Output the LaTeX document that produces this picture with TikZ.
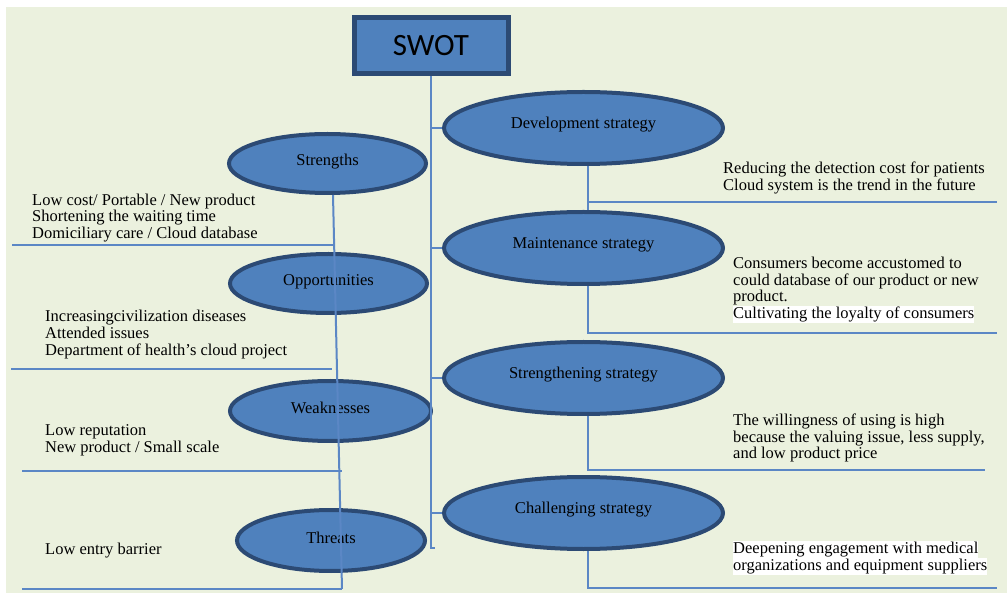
\documentclass[tikz,border=0pt]{standalone}
\usepackage{fontspec}
\setmainfont{Liberation Serif}
\newfontfamily\swotfont{Carlito}
\usetikzlibrary{shapes.geometric}
\definecolor{bgc}{HTML}{EBF1DE}
\definecolor{fillc}{HTML}{4F81BD}
\definecolor{edgec}{HTML}{2C4A74}
\definecolor{linec}{HTML}{5B87C5}
\tikzset{
  oval/.style={ellipse, draw=edgec, fill=fillc, line width=4pt, inner sep=0pt,
    font=\fontsize{16.5}{16.7}\selectfont, text height=11pt},
  lefto/.style={oval, text depth=6pt},
  righto/.style={oval, text depth=10.5pt, minimum width=279pt, minimum height=72pt},
  conn/.style={draw=linec, line width=2pt},
  note/.style={anchor=west, align=left, inner sep=0pt, font=\fontsize{16.5}{16.7}\selectfont},
  hl/.style={}
}
\newcommand{\hlline}[1]{{\setlength{\fboxsep}{0pt}\colorbox{white}{\rule[-4.6pt]{0pt}{16.7pt}#1}}}
\begin{document}
\begin{tikzpicture}[x=1pt,y=-1pt]
\useasboundingbox (0,0) rectangle (1007,593);
\fill[bgc] (6,7) rectangle (1007,593);

% central box
\node[draw=edgec, fill=fillc, line width=5pt, minimum width=154pt, minimum height=56pt, inner sep=0pt,
      font=\swotfont\fontsize{31}{31}\selectfont] (swot) at (431,45.5) {SWOT};

% right ellipses
\node[righto] (dev) at (583.5,128) {Development strategy};
\node[righto] (mnt) at (583.5,248) {Maintenance strategy};
\node[righto] (stg) at (583.5,378) {Strengthening strategy};
\node[righto] (chl) at (583.5,513) {Challenging strategy};

% left ellipses
\node[lefto, minimum width=197pt, minimum height=59pt] (str) at (327.5,163.5) {Strengths};
\node[lefto, minimum width=197pt, minimum height=59pt] (opp) at (328.5,283.5) {Opportunities};
\node[lefto, minimum width=201pt, minimum height=60pt] (wea) at (330.5,411) {Weaknesses};
\node[lefto, minimum width=188pt, minimum height=61pt] (thr) at (331,540.5) {Threats};

% trunk
\coordinate (trunkend) at (431,548);
\draw[conn] (swot.south) -- (trunkend) -- ++(4,0);
\draw[conn] (dev.west) -- (dev.west -| trunkend);
\draw[conn] (mnt.west) -- (mnt.west -| trunkend);
\draw[conn] (stg.west) -- (stg.west -| trunkend);
\draw[conn] (chl.west) -- (chl.west -| trunkend);

% left spine
\coordinate (lbot) at (342,589);
\draw[conn] ([xshift=5.5pt]str.south) -- (lbot);
\coordinate (la1) at (12,245);  \coordinate (lb1) at (334,245);
\coordinate (la2) at (11,369);  \coordinate (lb2) at (332,369);
\coordinate (la3) at (22,471);  \coordinate (lb3) at (342,471);
\coordinate (la4) at (22,589);
\draw[conn] (la1) -- (lb1);
\draw[conn] (la2) -- (lb2);
\draw[conn] (la3) -- (lb3);
\draw[conn] (la4) -- (lbot);

% right branches
\coordinate (r1a) at (588,202); \coordinate (r1b) at (997,202);
\coordinate (r2) at (997,333);
\coordinate (r3) at (985,470);
\coordinate (r4) at (997,588);
\draw[conn] ([xshift=4.5pt]dev.south) -- ([xshift=4.5pt]mnt.north);
\draw[conn] (r1a) -- (r1b);
\draw[conn] ([xshift=4.5pt]mnt.south) |- (r2);
\draw[conn] ([xshift=4.5pt]stg.south) |- (r3);
\draw[conn] ([xshift=4.5pt]chl.south) |- (r4);

% left notes
\node[note] (tstr) at (32,218) {Low cost/ Portable / New product\\Shortening the waiting time\\Domiciliary care / Cloud database};
\node[note] (topp) at (45,334.5) {Increasingcivilization diseases\\Attended issues\\Department of health's cloud project};
\node[note] (twea) at (45,440) {Low reputation\\New product / Small scale};
\node[note] (tthr) at (45,551) {Low entry barrier};

% right notes
\node[note] (tdev) at (723,178) {Reducing the detection cost for patients\\Cloud system is the trend in the future};
\node[note] (tmnt) at (733,290) {Consumers become accustomed to\\could database of our product or new\\product.\\\hlline{Cultivating the loyalty of consumers}};
\node[note] (tstg) at (733,438) {The willingness of using is high\\because the valuing issue, less supply,\\and low product price};
\node[note] (tchl) at (733,558) {\hlline{Deepening engagement with medical}\\\hlline{organizations and equipment suppliers}};
\end{tikzpicture}
\end{document}
